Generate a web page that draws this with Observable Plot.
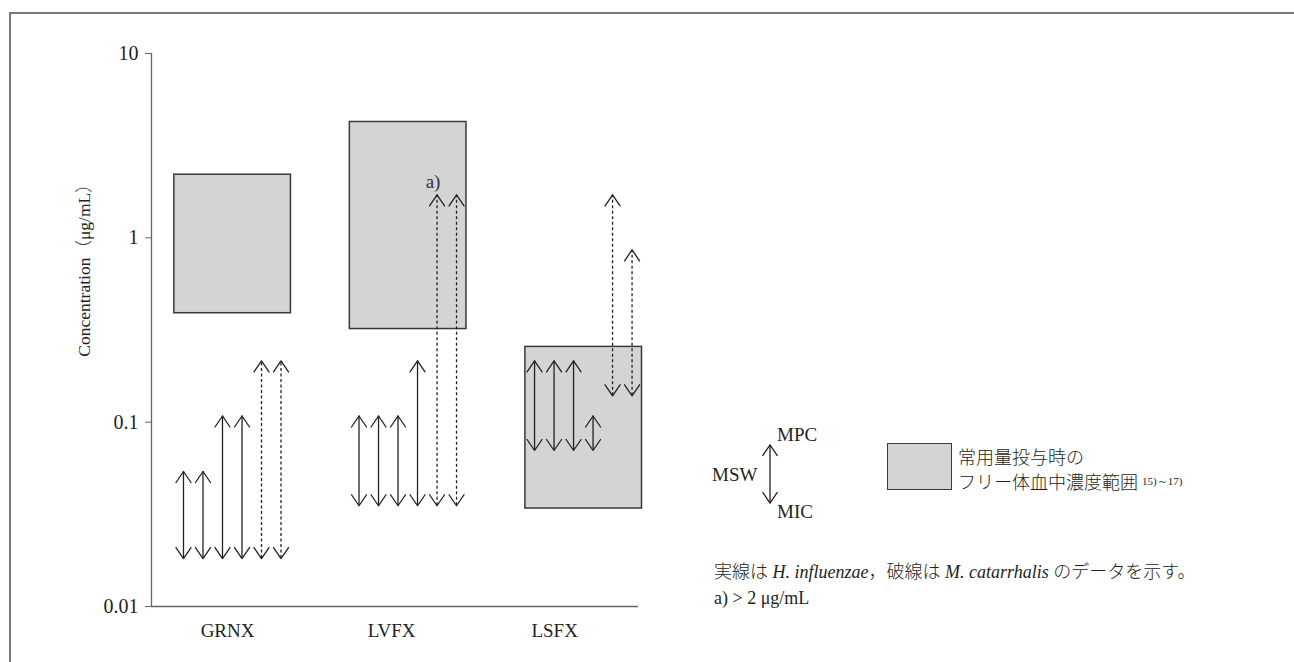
<!DOCTYPE html>
<html><head><meta charset="utf-8">
<script src="https://cdn.jsdelivr.net/npm/d3@7"></script>
<script src="https://cdn.jsdelivr.net/npm/@observablehq/plot@0.6"></script>
<style>
body{margin:0;background:#fff;}
#wrap{position:relative;width:1294px;height:662px;overflow:hidden;font-family:"Liberation Serif","Noto Sans CJK JP",serif;color:#231f20;}
#frame{position:absolute;left:9px;top:12px;right:-5px;bottom:-5px;border-top:2px solid #7a7a7a;border-left:2px solid #7a7a7a;}
#chart{position:absolute;left:0;top:0;}
.t{position:absolute;white-space:nowrap;line-height:1;transform:translateY(-50%);}
.jp{font-family:"Noto Sans CJK JP","Liberation Serif",sans-serif;font-weight:300;}
</style></head><body>
<div id="wrap">
<div id="frame"></div>
<div id="chart"></div>
<div class="t" style="left:84px;top:266px;font-size:17.5px;transform:translate(-50%,-50%) rotate(-90deg);">Concentration<span class="jp">（</span>μg/mL<span class="jp">）</span></div>
<div class="t" style="left:712px;top:474px;font-size:19px;">MSW</div>
<div class="t" style="left:777px;top:434px;font-size:19px;">MPC</div>
<div class="t" style="left:777px;top:511px;font-size:19px;">MIC</div>
<svg style="position:absolute;left:762px;top:440px;" width="16" height="68">
  <g fill="none" stroke="#222" stroke-width="1.3">
    <line x1="8" y1="5" x2="8" y2="63"/>
    <path d="M0.5,16L8,5L15.5,16"/>
    <path d="M0.5,52L8,63L15.5,52"/>
  </g>
</svg>
<div style="position:absolute;left:887px;top:443px;width:63px;height:45px;background:#d3d4d6;border:1.5px solid #3a3a3a;"></div>
<div class="t jp" style="left:958px;top:456px;font-size:18px;">常用量投与時の</div>
<div class="t jp" style="left:958px;top:481px;font-size:18px;">フリー体血中濃度範囲 <span style="font-family:'Liberation Serif';font-size:11px;vertical-align:4px;">15)～17)</span></div>
<div class="t" style="left:714px;top:571px;font-size:18px;"><span class="jp">実線は</span> <i>H. influenzae</i><span class="jp">，破線は</span> <i>M. catarrhalis</i> <span class="jp">のデータを示す。</span></div>
<div class="t" style="left:714px;top:598px;font-size:18px;">a) &gt; 2 μg/mL</div>
</div>
<script>
// ---- data ----
const groups = ["GRNX", "LVFX", "LSFX"];
const yTicks = [0.01, 0.1, 1, 10];
// free plasma concentration range at usual dose (µg/mL)
const rangeLow = [0.39, 0.32, 0.034];
const rangeHigh = [2.2, 4.25, 0.256];
// species of each arrow within a group: H = H. influenzae (solid), M = M. catarrhalis (dashed)
const species = ["H", "H", "H", "H", "M", "M"];
// MIC (arrow bottom) and MPC (arrow top) per group
const micGRNX = [0.0182, 0.0182, 0.0182, 0.0182, 0.0182, 0.0182];
const mpcGRNX = [0.054, 0.054, 0.108, 0.108, 0.215, 0.215];
const micLVFX = [0.0352, 0.0352, 0.0352, 0.0352, 0.0352, 0.0352];
const mpcLVFX = [0.108, 0.108, 0.108, 0.215, 1.71, 1.71];
const micLSFX = [0.0702, 0.0702, 0.0702, 0.0702, 0.139, 0.139];
const mpcLSFX = [0.215, 0.215, 0.215, 0.108, 1.71, 0.86];
// notes: "a)" marks MPC > 2 µg/mL
const notes = [{group: "LVFX", index: 4, text: "a)"}];
const labelShift = [2.26, 1.67, 1.03];

// ---- build tables ----
const mics = [micGRNX, micLVFX, micLSFX];
const mpcs = [mpcGRNX, mpcLVFX, mpcLSFX];
const slotsPerGroup = 9;
const arrows = [];
groups.forEach((g, gi) => mics[gi].forEach((m, ai) => arrows.push({
  group: g, slot: gi * slotsPerGroup + ai, mic: m, mpc: mpcs[gi][ai], sp: species[ai]
})));
const boxes = groups.map((g, gi) => ({group: g, x1: gi * slotsPerGroup - 0.47, x2: gi * slotsPerGroup + 5.51, lo: rangeLow[gi], hi: rangeHigh[gi]}));
const labelX = groups.map((g, gi) => gi * slotsPerGroup + labelShift[gi]);
const noteData = notes.map(n => {
  const a = arrows.find(d => d.group === n.group && d.slot % slotsPerGroup === n.index);
  return {x: a.slot, y: a.mpc, text: n.text};
});

const chevron = {draw(ctx) { ctx.moveTo(-7.5, 11); ctx.lineTo(0, 0); ctx.lineTo(7.5, 11); }};
const ink = "#222";
const xDomain = [-1.64, 23.33];

const chart = Plot.plot({
  width: 1294, height: 662,
  marginTop: 53, marginBottom: 56, marginLeft: 151, marginRight: 656,
  style: {fontFamily: '"Liberation Serif","Noto Sans CJK JP",serif', fontSize: "20px", color: "#231f20", background: "transparent"},
  x: {domain: xDomain},
  y: {type: "log", domain: [0.01, 10]},
  marks: [
    Plot.rect(boxes, {x1: "x1", x2: "x2", y1: "lo", y2: "hi", fill: "#d3d4d6", stroke: "#3a3a3a", strokeWidth: 1.5}),
    Plot.ruleX(arrows.filter(d => d.sp === "H"), {x: "slot", y1: "mic", y2: "mpc", stroke: ink, strokeWidth: 1.3}),
    Plot.ruleX(arrows.filter(d => d.sp === "M"), {x: "slot", y1: "mic", y2: "mpc", stroke: ink, strokeWidth: 1.3, strokeDasharray: "3,2.5"}),
    Plot.vector(arrows, {x: "slot", y: "mpc", length: 11, rotate: 0, anchor: "start", shape: chevron, stroke: ink, strokeWidth: 1.3}),
    Plot.vector(arrows, {x: "slot", y: "mic", length: 11, rotate: 180, anchor: "start", shape: chevron, stroke: ink, strokeWidth: 1.3}),
    Plot.text(noteData, {x: "x", y: "y", text: "text", dx: -4, dy: -13, fontSize: 19, fill: "#333"}),
    Plot.ruleX([xDomain[0]], {stroke: "#666", strokeWidth: 1.3}),
    Plot.ruleY([yTicks[0]], {stroke: "#666", strokeWidth: 1.3}),
    Plot.axisY({ticks: yTicks, tickFormat: d => String(d), tickSize: 6, tickPadding: 7, stroke: "#666", label: null, fontSize: 20}),
    Plot.axisX({ticks: labelX, tickFormat: d => groups[labelX.indexOf(d)], tickSize: 0, tickPadding: 17, label: null, fontSize: 19})
  ]
});
document.getElementById("chart").appendChild(chart);
</script>
</body></html>
